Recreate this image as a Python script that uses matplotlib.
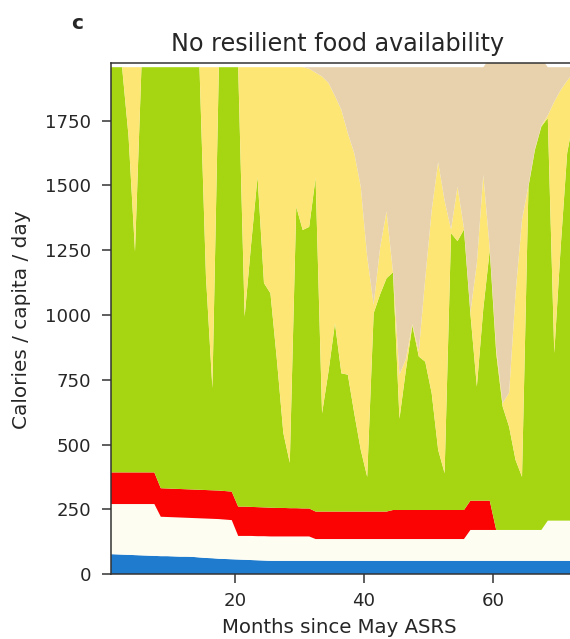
import numpy as np
import matplotlib
matplotlib.use("Agg")
import matplotlib.pyplot as plt

# ---- data (kcal / capita / day), one value per month ----
months = np.arange(73) + 0.5

fish = [78, 77, 76, 75, 74, 73, 72, 71, 70, 70, 69, 68, 68, 67, 65, 63, 62, 60, 59, 58,
        57, 56, 55, 54, 53, 52, 52, 52, 52, 52, 52, 52, 52, 52, 52, 52, 52, 52, 52, 52,
        52, 52, 52, 52, 52, 52, 52, 52, 52, 52, 52, 52, 52, 52, 52, 52, 52, 52, 52, 52,
        52, 52, 52, 52, 52, 52, 52, 52, 52, 52, 52, 52, 52]

meat_dairy = [193, 194, 195, 196, 197, 198, 199, 200,
              152, 151, 151, 151, 150, 150, 151, 152, 152, 153, 152, 151,
              91, 92, 93, 93, 94, 94, 94, 94, 94, 94, 94, 94,
              84, 84, 84, 84, 84, 84, 84, 84, 84, 84, 84, 84,
              84, 84, 84, 84, 84, 84, 84, 84, 84, 84, 84, 84,
              119, 119, 119, 119, 119, 119, 119, 119, 119, 119, 119, 119,
              155, 155, 155, 155, 155]

biofuel_feed = [122, 122, 122, 122, 122, 122, 122, 122,
                110, 110, 110, 110, 110, 110, 110, 110, 110, 110, 110, 110,
                113, 113, 112, 112, 111, 111, 110, 110, 109, 109, 108, 108,
                106, 106, 106, 106, 106, 106, 106, 106, 106, 106, 106, 106,
                112, 112, 112, 112, 112, 112, 112, 112, 112, 112, 112, 112,
                113, 113, 113, 113,
                0, 0, 0, 0, 0, 0, 0, 0, 0, 0, 0, 0, 0]

outdoor_crops = [1563, 1563, 1563, 1297, 852, 1563, 1563, 1563,
                 1624, 1625, 1626, 1627, 1628, 1629, 1630, 825, 394, 1633, 1635, 1637,
                 1695, 733, 1012, 1275, 865, 827, 571, 289, 175, 1163, 1074, 1086,
                 1288, 379, 540, 726, 533, 528, 378, 238, 134, 765, 838, 900,
                 917, 352, 540, 712, 592, 572, 450, 232, 142, 1068, 1037, 1082,
                 721, 440, 741, 966,
                 682, 476, 398, 270, 205, 1324, 1466, 1556,
                 1553, 646, 1057, 1418, 1550]

stored_food = [0, 0, 0, 266, 711, 0, 0, 0,
               0, 0, 0, 0, 0, 0, 0, 806, 1238, 0, 0, 0,
               0, 962, 684, 422, 833, 872, 1129, 1411, 1526, 538, 628, 610,
               405, 1299, 1113, 877, 1016, 931, 1004, 1015, 849, 33, 180, 258,
               0, 170, 42, 5, 20, 322, 706, 1110, 1051, 14, 210, 5,
               5, 476, 515, 5,
               17, 13, 131, 643, 991, 5, 3, 3,
               10, 970, 604, 279, 178]

other_food = [0, 0, 0, 0, 0, 0, 0, 0, 0, 0, 0, 0, 0, 0, 0, 0, 0, 0, 0, 0,
              0, 0, 0, 0, 0, 0, 0, 0, 0, 0, 0, 6,
              21, 36, 61, 111, 165, 255, 332, 461, 731, 916, 696, 556,
              791, 1186, 1126, 991, 1096, 814, 552, 366, 515, 626, 461, 621,
              946, 756, 416, 735,
              1120, 1330, 1290, 906, 623, 490, 350, 260,
              186, 133, 88, 52, 21]

colors = ["#1f7bcd", "#fdfdf2", "#fb0303", "#a6d612", "#fde674", "#e8d2ae"]

yticks = [0, 250, 500, 750, 1000, 1250, 1500, 1750]
xticks = [20, 40, 60]

title = "No resilient food availability"
xlabel = "Months since May ASRS"
ylabel = "Calories / capita / day"
panel = "c"

# ---- figure ----
W, H = 570, 639
fig = plt.figure(figsize=(W / 100, H / 100), dpi=100)
ax = fig.add_axes([111 / W, (H - 574.3) / H, (572 - 111) / W, 511 / H])

ax.stackplot(months, fish, meat_dairy, biofuel_feed, outdoor_crops, stored_food,
             other_food, colors=colors, linewidth=0)

ax.set_xlim(0.78, 72.25)
ax.set_ylim(0, 1971)
ax.set_yticks(yticks)
ax.set_xticks(xticks)

txt = "#262626"
for s in ax.spines.values():
    s.set_color("#333333")
    s.set_linewidth(1.1)
ax.tick_params(axis="both", colors="#333333", labelcolor=txt, labelsize=13.1,
               length=6.5, width=1.1)
ax.tick_params(axis="y", pad=7.8)
ax.tick_params(axis="x", pad=6.0)

fig.text(338 / W, 1 - 51.5 / H, title, ha="center", va="baseline",
         fontsize=17.2, color=txt)
fig.text(339 / W, 1 - 633 / H, xlabel, ha="center", va="baseline",
         fontsize=14.2, color=txt)
fig.text(22 / W, 1 - 320 / H, ylabel, ha="center", va="center",
         rotation=90, fontsize=14.4, color=txt)
fig.text(71 / W, 1 - 29 / H, panel, ha="left", va="baseline",
         fontsize=14.5, fontweight="bold", color=txt)

fig.savefig("out.png", dpi=100)
